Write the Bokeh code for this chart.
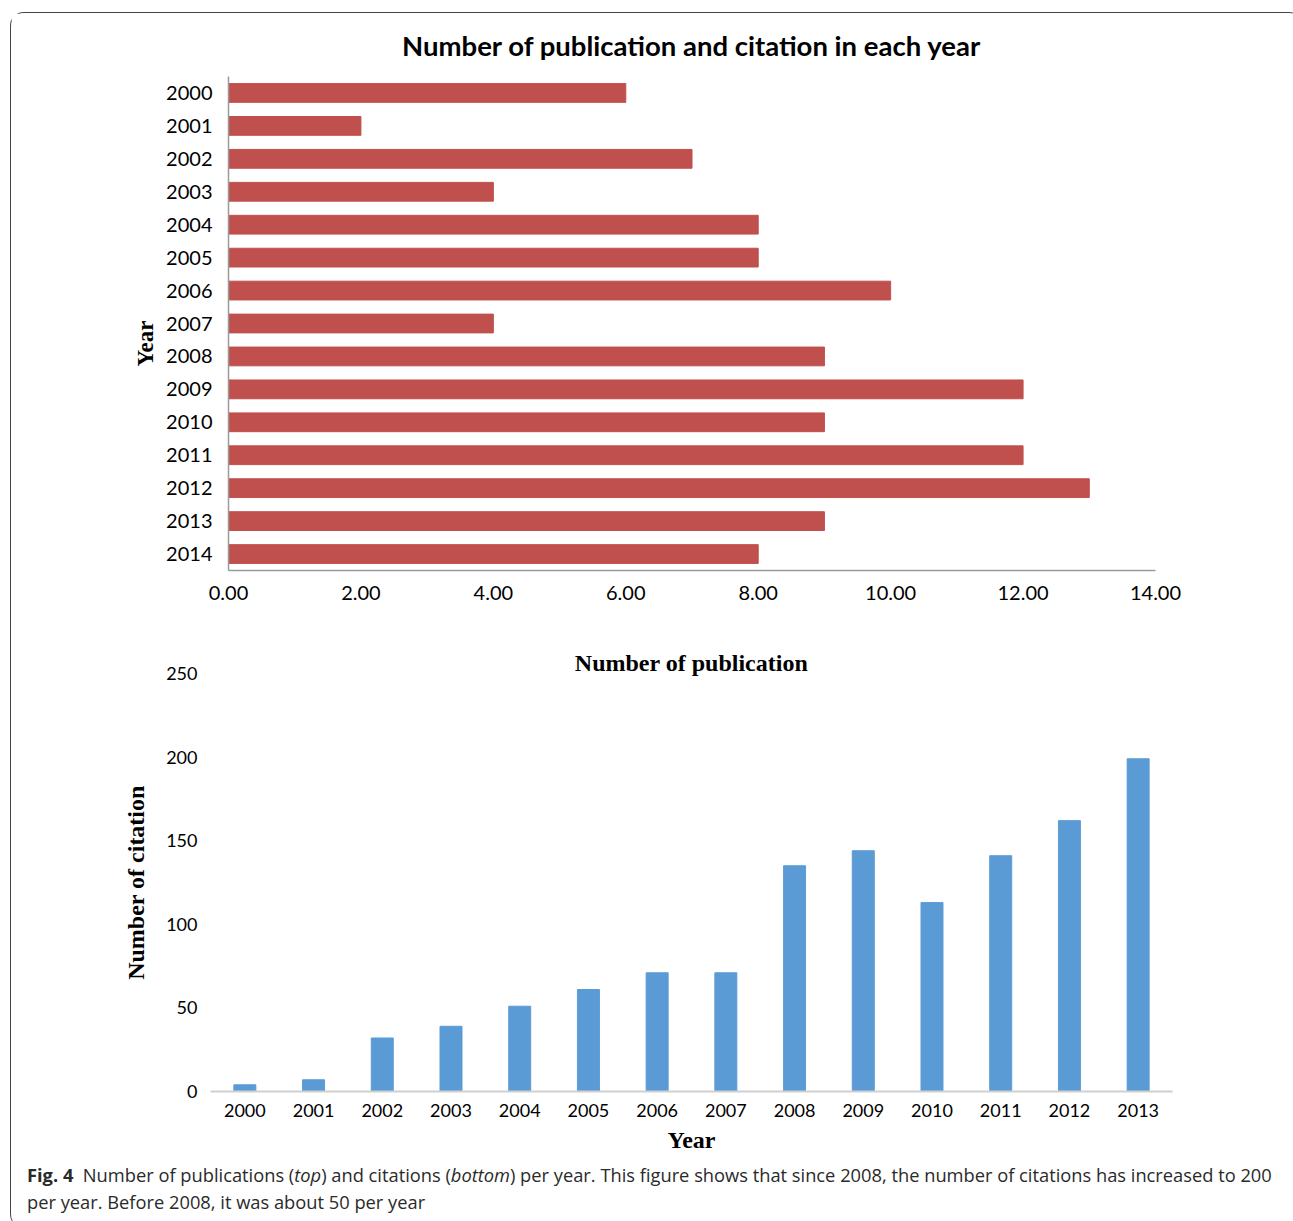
from bokeh.plotting import figure
from bokeh.models import FactorRange, Range1d, FixedTicker, PrintfTickFormatter, Div
from bokeh.layouts import column
from bokeh.embed import file_html
from bokeh.resources import INLINE

# ---------------- data ----------------
pub_years = ["2000", "2001", "2002", "2003", "2004", "2005", "2006", "2007",
             "2008", "2009", "2010", "2011", "2012", "2013", "2014"]
pub_counts = [6, 2, 7, 4, 8, 8, 10, 4, 9, 12, 9, 12, 13, 9, 8]
pub_ticks = [0, 2, 4, 6, 8, 10, 12, 14]

cite_years = ["2000", "2001", "2002", "2003", "2004", "2005", "2006",
              "2007", "2008", "2009", "2010", "2011", "2012", "2013"]
cite_counts = [4, 7, 32, 39, 51, 61, 71, 71, 135, 144, 113, 141, 162, 199]
cite_ticks = [0, 50, 100, 150, 200, 250]

top_title = "Number of publication and citation in each year"
bottom_title = "Number of publication"

SANS = "Lato"
SERIF = "Liberation Serif"

# ---------------- top chart ----------------
p1 = figure(width=1282, height=617,
            y_range=FactorRange(factors=pub_years[::-1]),
            x_range=Range1d(0, 14),
            output_backend="svg", toolbar_location=None,
            min_border_left=217, min_border_right=138,
            min_border_top=63, min_border_bottom=60,
            frame_align=False)
p1.hbar(y=pub_years, right=pub_counts, height=0.57,
        fill_color="#C0504D", line_color="#C0504D")
p1.title.text = top_title
p1.title.align = "center"
p1.title.vertical_align = "top"
p1.title.text_font = SANS
p1.title.text_font_size = "27.5px"
p1.title.text_font_style = "bold"
p1.title.text_color = "#000000"
p1.title.standoff = 26
p1.outline_line_color = None
p1.xgrid.grid_line_color = None
p1.ygrid.grid_line_color = None
p1.xaxis.ticker = FixedTicker(ticks=pub_ticks)
p1.xaxis.formatter = PrintfTickFormatter(format="%.2f")
for ax in (p1.xaxis[0], p1.yaxis[0]):
    ax.major_tick_line_color = None
    ax.minor_tick_line_color = None
    ax.axis_line_color = "#9a9a9a"
    ax.axis_line_width = 1.5
    ax.major_label_text_font = SANS
    ax.major_label_text_font_size = "20px"
    ax.major_label_text_color = "#000000"
p1.xaxis.major_label_standoff = 9
p1.yaxis.major_label_standoff = 10
p1.yaxis.axis_label = "Year" + "\u00a0" * 7
p1.yaxis.axis_label_text_font = SERIF
p1.yaxis.axis_label_text_font_size = "23px"
p1.yaxis.axis_label_text_font_style = "bold"
p1.yaxis.axis_label_text_color = "#000000"
p1.yaxis.axis_label_standoff = 5

# ---------------- bottom chart ----------------
p2 = figure(width=1282, height=530,
            x_range=FactorRange(factors=cite_years),
            y_range=Range1d(0, 250),
            output_backend="svg", toolbar_location=None,
            min_border_left=199, min_border_right=121,
            min_border_top=43, min_border_bottom=69,
            frame_align=False)
p2.vbar(x=cite_years, top=cite_counts, width=0.32,
        fill_color="#5B9BD5", line_color="#5B9BD5")
p2.title.text = bottom_title
p2.title.align = "center"
p2.title.text_font = SERIF
p2.title.text_font_size = "24px"
p2.title.text_font_style = "bold"
p2.title.text_color = "#000000"
p2.title.standoff = -4
p2.outline_line_color = None
p2.xgrid.grid_line_color = None
p2.ygrid.grid_line_color = None
p2.yaxis.ticker = FixedTicker(ticks=cite_ticks)
for ax in (p2.xaxis[0], p2.yaxis[0]):
    ax.major_tick_line_color = None
    ax.minor_tick_line_color = None
    ax.major_label_text_font = SANS
    ax.major_label_text_font_size = "18px"
    ax.major_label_text_color = "#000000"
    ax.axis_label_text_font = SERIF
    ax.axis_label_text_font_size = "24px"
    ax.axis_label_text_font_style = "bold"
    ax.axis_label_text_color = "#000000"
p2.yaxis.axis_line_color = None
p2.xaxis.axis_line_color = "#d0d0d0"
p2.xaxis.axis_line_width = 2
p2.xaxis.major_label_standoff = 6
p2.yaxis.major_label_standoff = 7
p2.xaxis.axis_label = "Year"
p2.xaxis.axis_label_standoff = 7
p2.yaxis.axis_label = "Number of citation"
p2.yaxis.axis_label_standoff = 14

# ---------------- caption ----------------
caption_html = (
    '<div style="font-family: \'Open Sans\'; font-size: 18.3px; line-height: 27px; '
    'color: #2a2a2a; padding-left: 11px; position: relative; top: -4px; '
    'white-space: nowrap;">'
    '<b>Fig. 4</b>&nbsp; Number of publications (<i>top</i>) and citations '
    '(<i>bottom</i>) per year. This figure shows that since 2008, the number of '
    'citations has increased to 200<br>per year. Before 2008, it was about 50 per year'
    '</div>'
)
cap = Div(text=caption_html, width=1282, height=58)

layout = column(p1, p2, cap, margin=(12, 0, 0, 10),
                styles={"border-left": "1.3px solid #444",
                        "border-top": "1.3px solid #444",
                        "border-radius": "14px 14px 0 14px"})

open("out.html", "w").write(file_html(layout, INLINE))
